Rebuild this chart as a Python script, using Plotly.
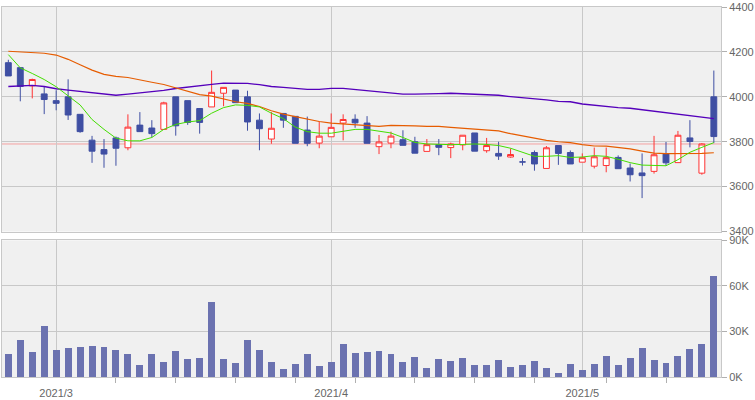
import plotly.graph_objects as go
import pandas as pd

dates = [
    "2021-02-22", "2021-02-24", "2021-02-25", "2021-02-26",
    "2021-03-01", "2021-03-02", "2021-03-03", "2021-03-04", "2021-03-05",
    "2021-03-08", "2021-03-09", "2021-03-10", "2021-03-11", "2021-03-12",
    "2021-03-15", "2021-03-16", "2021-03-17", "2021-03-18", "2021-03-19",
    "2021-03-22", "2021-03-23", "2021-03-24", "2021-03-25", "2021-03-26",
    "2021-03-29", "2021-03-30", "2021-03-31",
    "2021-04-01", "2021-04-02",
    "2021-04-05", "2021-04-06", "2021-04-07", "2021-04-08", "2021-04-09",
    "2021-04-12", "2021-04-13", "2021-04-14", "2021-04-15", "2021-04-16",
    "2021-04-19", "2021-04-20", "2021-04-21", "2021-04-22", "2021-04-23",
    "2021-04-26", "2021-04-27", "2021-04-28", "2021-04-30",
    "2021-05-06", "2021-05-07",
    "2021-05-10", "2021-05-11", "2021-05-12", "2021-05-13", "2021-05-14",
    "2021-05-17", "2021-05-18", "2021-05-19", "2021-05-20", "2021-05-21",
]

opens = [4152, 4130, 4049, 4013, 3983, 4000, 3922, 3807, 3765, 3817,
         3773, 3874, 3861, 3855, 4000, 3983, 3948, 3955, 4016, 4030,
         4000, 3896, 3812, 3926, 3913, 3852, 3794, 3822, 3883, 3900,
         3883, 3778, 3794, 3809, 3800, 3757, 3787, 3774, 3786, 3839,
         3760, 3748, 3732, 3710, 3752, 3681, 3783, 3752, 3709, 3691,
         3694, 3730, 3683, 3661, 3668, 3745, 3707, 3817, 3660, 4000]
highs = [4165, 4130, 4081, 4046, 4029, 4078, 3922, 3826, 3812, 3823,
         3922, 3932, 3896, 3978, 4000, 3983, 3948, 4117, 4042, 4030,
         4027, 3926, 3932, 3926, 3913, 3912, 3890, 3926, 3922, 3922,
         3914, 3830, 3845, 3851, 3822, 3812, 3812, 3796, 3829, 3839,
         3817, 3800, 3770, 3727, 3761, 3781, 3783, 3761, 3748, 3774,
         3774, 3739, 3703, 3748, 3826, 3799, 3848, 3896, 3794, 4117]
lows = [4093, 3980, 3993, 3923, 3940, 3897, 3840, 3706, 3684, 3693,
        3762, 3845, 3819, 3855, 3827, 3875, 3836, 3955, 3958, 3974,
        3849, 3762, 3791, 3862, 3793, 3780, 3771, 3822, 3806, 3862,
        3793, 3745, 3771, 3784, 3749, 3757, 3740, 3727, 3762, 3758,
        3751, 3719, 3729, 3694, 3671, 3681, 3697, 3701, 3709, 3681,
        3664, 3680, 3623, 3549, 3658, 3693, 3707, 3775, 3653, 3794]
closes = [4093, 4046, 4077, 3988, 3971, 3919, 3845, 3758, 3745, 3771,
          3865, 3845, 3836, 3973, 3871, 3886, 3886, 4020, 4042, 3974,
          3888, 3858, 3860, 3896, 3793, 3793, 3825, 3864, 3899, 3884,
          3793, 3799, 3825, 3784, 3749, 3787, 3775, 3790, 3829, 3758,
          3783, 3736, 3743, 3710, 3701, 3773, 3748, 3701, 3729, 3733,
          3729, 3680, 3653, 3649, 3742, 3706, 3829, 3801, 3790, 3823]

volumes = [14800, 24400, 16100, 33400, 17400, 18600, 19300, 19900, 19300, 17400,
           14800, 7700, 14800, 9600, 16700, 11600, 12200, 48900, 11600, 9000,
           24400, 17400, 9600, 5100, 8400, 14800, 7100, 9600, 21200, 15400,
           16100, 16700, 14800, 9600, 12900, 5800, 11600, 10300, 12200, 7700,
           7700, 10900, 6400, 7700, 10300, 5800, 2600, 8400, 4500, 8400,
           13500, 7700, 12200, 18600, 10900, 9000, 13500, 18000, 21200, 66200]

ma5 = [4188, 4129, 4104, 4077, 4045, 4003, 3964, 3899, 3855, 3816,
       3804, 3804, 3819, 3855, 3877, 3888, 3894, 3927, 3952, 3964,
       3962, 3955, 3927, 3903, 3865, 3845, 3838, 3838, 3845, 3855,
       3855, 3848, 3839, 3819, 3797, 3790, 3788, 3787, 3788, 3790,
       3788, 3783, 3771, 3753, 3735, 3735, 3738, 3730, 3732, 3738,
       3735, 3722, 3707, 3696, 3696, 3693, 3720, 3753, 3775, 3796]
ma25 = [4203, 4201, 4199, 4194, 4186, 4167, 4143, 4119, 4100, 4091,
        4086, 4077, 4065, 4055, 4039, 4025, 4010, 4003, 3990, 3978,
        3971, 3957, 3938, 3923, 3912, 3900, 3890, 3883, 3880, 3877,
        3873, 3868, 3873, 3873, 3871, 3868, 3868, 3864, 3860, 3855,
        3850, 3848, 3836, 3825, 3814, 3806, 3800, 3796, 3787, 3781,
        3780, 3774, 3768, 3758, 3749, 3747, 3747, 3747, 3748, 3751]
ma75 = [4046, 4049, 4051, 4046, 4036, 4030, 4025, 4019, 4013, 4007,
        4012, 4017, 4024, 4029, 4037, 4042, 4048, 4055, 4061, 4061,
        4060, 4054, 4046, 4042, 4036, 4033, 4033, 4038, 4038, 4033,
        4029, 4023, 4019, 4012, 4012, 4012, 4014, 4016, 4014, 4013,
        4012, 4007, 4001, 3997, 3990, 3986, 3980, 3978, 3968, 3962,
        3957, 3952, 3949, 3942, 3938, 3930, 3923, 3916, 3907, 3903]

price_ticks = [3400, 3600, 3800, 4000, 4200, 4400]
vol_ticks = [0, 30000, 60000, 90000]
vol_labels = [f"{v // 1000}K" for v in vol_ticks]

dt = pd.to_datetime(dates)
x = list(range(len(dates)))
month_idx = [i for i in range(1, len(dt)) if dt[i].month != dt[i - 1].month]
month_text = [f"{dt[i].year}/{dt[i].month}" for i in month_idx]
week_idx = [i for i in range(1, len(dt))
            if dt[i].weekday() < dt[i - 1].weekday() and i not in month_idx]

GRID = "#c8c8c8"
fig = go.Figure()

fig.add_trace(go.Candlestick(
    x=x, open=opens, high=highs, low=lows, close=closes,
    xaxis="x2", yaxis="y2", whiskerwidth=0,
    increasing=dict(line=dict(color="#ff3333", width=1), fillcolor="#ffffff"),
    decreasing=dict(line=dict(color="#3f4fa3", width=1), fillcolor="#3f4fa3"),
    hoverinfo="skip", showlegend=False,
))
for vals, col, w in [(ma75, "#5500bb", 1.3), (ma25, "#e65c00", 1.2), (ma5, "#44dd00", 1.0)]:
    fig.add_trace(go.Scatter(x=x, y=vals, mode="lines", xaxis="x2", yaxis="y2",
                             line=dict(color=col, width=w), hoverinfo="skip",
                             showlegend=False))

fig.add_trace(go.Bar(x=x, y=volumes, marker=dict(color="#6b72b0", line=dict(width=0)),
                     width=0.58, xaxis="x", yaxis="y", hoverinfo="skip",
                     showlegend=False))

fig.add_shape(type="line", xref="x2 domain", yref="y2", x0=0, x1=1,
              y0=closes[-2], y1=closes[-2],
              line=dict(color="#f4a0a0", width=1), layer="below")

axis_common = dict(showline=True, mirror=True, linecolor=GRID, linewidth=1,
                   gridcolor=GRID, gridwidth=1, zeroline=False)

fig.update_layout(
    width=755, height=400,
    margin=dict(l=1, r=33, t=3, b=18),
    paper_bgcolor="white", plot_bgcolor="#f0f0f0",
    showlegend=False, bargap=0,
    font=dict(family="Liberation Sans, Arial, sans-serif", size=11, color="#666666"),
    xaxis=dict(domain=[0, 1], anchor="y", range=[-0.53, 59.6],
               tickmode="array", tickvals=month_idx, ticktext=month_text,
               ticks="outside", ticklen=6, tickcolor="rgba(0,0,0,0)",
               showgrid=True,
               minor=dict(tickmode="array", tickvals=week_idx, ticks="outside",
                          ticklen=5, tickcolor="#b0b0b0", showgrid=False),
               rangeslider=dict(visible=False), **axis_common),
    xaxis2=dict(domain=[0, 1], anchor="y2", matches="x", showticklabels=False,
                tickmode="array", tickvals=month_idx, ticks="", showgrid=True,
                rangeslider=dict(visible=False), **axis_common),
    yaxis=dict(domain=[0, 0.3694], anchor="x", side="right", range=[0, 90000],
               tickmode="array", tickvals=vol_ticks, ticktext=vol_labels,
               ticks="outside", ticklen=5, tickcolor="#b0b0b0", showgrid=True,
               **axis_common),
    yaxis2=dict(domain=[0.3931, 1], anchor="x2", side="right", range=[3400, 4400],
                tickmode="array", tickvals=price_ticks,
                ticks="outside", ticklen=5, tickcolor="#b0b0b0", showgrid=True,
                **axis_common),
)

fig.write_html(
    "out.html",
    config={"displayModeBar": False},
    post_script="document.body.style.margin='0';document.body.style.overflow='hidden';",
)
